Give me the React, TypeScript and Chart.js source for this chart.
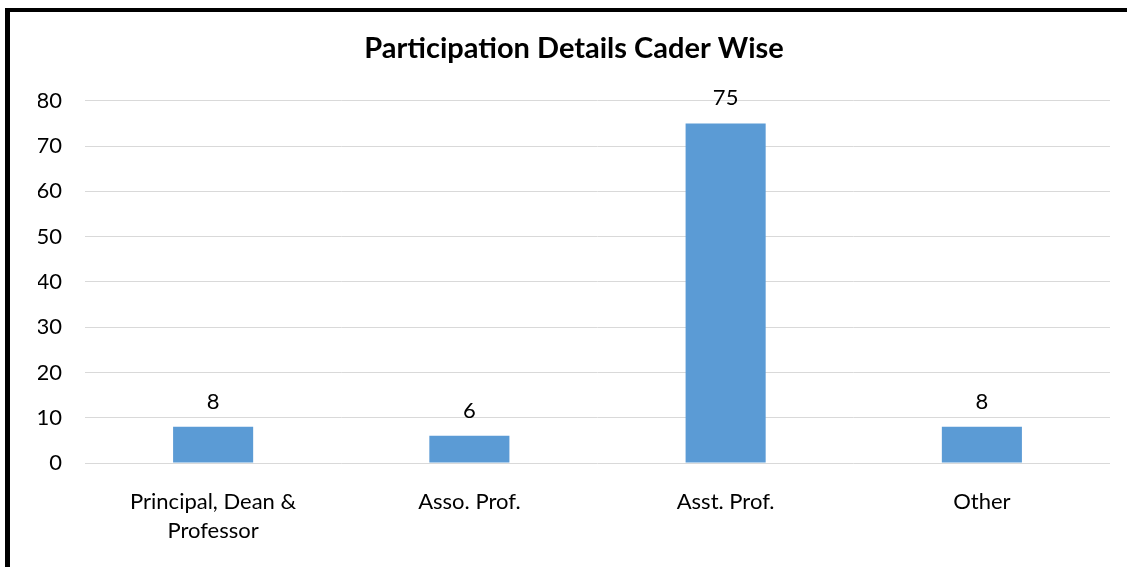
import React, { useEffect, useRef } from "react";
import { Chart, registerables } from "chart.js";

Chart.register(...registerables);

const title = "Participation Details Cader Wise";
const categories: (string | string[])[] = [
  ["Principal, Dean &", "Professor"],
  "Asso. Prof.",
  "Asst. Prof.",
  "Other",
];
const participants = [8, 6, 75, 8];
const yTicks = [0, 10, 20, 30, 40, 50, 60, 70, 80];

const FONT = "Lato, 'Liberation Sans', sans-serif";

const valueLabels = {
  id: "valueLabels",
  afterDatasetsDraw(chart: any) {
    const ctx = chart.ctx;
    ctx.save();
    ctx.font = `22px ${FONT}`;
    ctx.fillStyle = "#000";
    ctx.textAlign = "center";
    ctx.textBaseline = "alphabetic";
    chart.data.datasets.forEach((ds: any, i: number) => {
      const meta = chart.getDatasetMeta(i);
      meta.data.forEach((el: any, j: number) => {
        ctx.fillText(String(ds.data[j]), el.x, el.y - 18);
      });
    });
    ctx.restore();
  },
};

export default function App() {
  const ref = useRef<HTMLCanvasElement>(null);
  useEffect(() => {
    if (!ref.current) return;
    const chart = new Chart(ref.current, {
      type: "bar",
      data: {
        labels: categories,
        datasets: [
          {
            label: "Participants",
            data: participants,
            backgroundColor: "#5B9BD5",
            borderWidth: 0,
            barPercentage: 0.3125,
            categoryPercentage: 1,
          },
        ],
      },
      options: {
        responsive: false,
        animation: false,
        layout: { padding: { left: 38, right: 17, top: 0, bottom: 0 } },
        plugins: {
          legend: { display: false },
          tooltip: { enabled: false },
          title: {
            display: true,
            text: title,
            color: "#000",
            font: { family: FONT, size: 29, weight: "bold", lineHeight: 1.2 },
            padding: { top: 31, bottom: 35 },
          },
        },
        scales: {
          x: {
            grid: { display: false, drawTicks: false },
            border: { display: false },
            ticks: {
              color: "#000",
              font: { family: FONT, size: 22, lineHeight: 1.3 },
              padding: 25,
              maxRotation: 0,
              autoSkip: false,
            },
            afterFit: (s: any) => {
              s.height = 104;
            },
          },
          y: {
            min: 0,
            max: 80,
            afterBuildTicks: (s: any) => {
              s.ticks = yTicks.map((v) => ({ value: v }));
            },
            grid: { color: "#D9D9D9", lineWidth: 1, drawTicks: false },
            border: { display: false },
            ticks: {
              color: "#000",
              font: { family: FONT, size: 22 },
              padding: 23,
            },
            afterFit: (s: any) => {
              s.width = 47;
            },
          },
        },
      },
      plugins: [valueLabels],
    });
    return () => chart.destroy();
  }, []);

  return (
    <div style={{ position: "fixed", left: 0, top: 0, width: 1127, height: 567, background: "#fff" }}>
      <canvas ref={ref} width={1127} height={567} style={{ position: "absolute", left: 0, top: 0, display: "block" }} />
      <div style={{ position: "absolute", left: 5, top: 8, width: 1122, height: 4, background: "#000" }} />
      <div style={{ position: "absolute", left: 5, top: 8, width: 5, height: 559, background: "#000" }} />
    </div>
  );
}
